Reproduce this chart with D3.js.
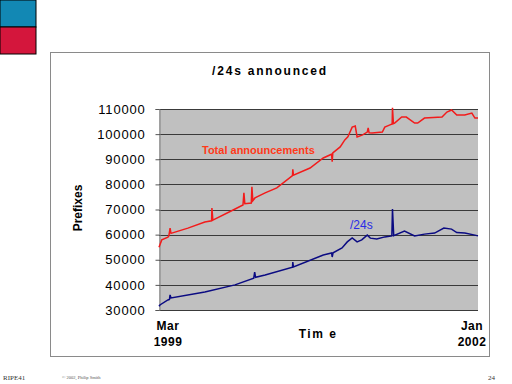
<!DOCTYPE html>
<html>
<head>
<meta charset="utf-8">
<script src="https://cdn.jsdelivr.net/npm/d3@7"></script>
<style>
  body { margin: 0; background: #fff; }
  svg { display: block; }
</style>
</head>
<body>
<script>
// size of the slide
var w = 512;
var h = 384;

// plot area inside the frame
var plot = {left: 159, right: 478, top: 109, bottom: 310};

// y ticks
var yTicks = [30000, 40000, 50000, 60000, 70000, 80000, 90000, 100000, 110000];

// Total announcements (red)
var totalDates = ["1999-03-01","1999-03-10","1999-03-30","1999-04-02","1999-04-06","1999-04-09",
  "1999-04-22","1999-06-03","1999-07-28","1999-08-19","1999-08-20","1999-08-23","1999-10-28",
  "1999-11-29","1999-12-02","1999-12-05","1999-12-26","1999-12-28","1999-12-31","2000-01-07",
  "2000-02-09","2000-03-18","2000-05-08","2000-05-09","2000-05-11","2000-07-04","2000-08-16",
  "2000-09-12","2000-09-14","2000-09-16","2000-10-10","2000-10-25","2000-11-04","2000-11-18",
  "2000-11-28","2000-12-04","2000-12-22","2001-01-06","2001-01-09","2001-01-12","2001-01-22",
  "2001-02-24","2001-03-04","2001-03-19","2001-03-28","2001-03-29","2001-04-01","2001-04-05",
  "2001-04-28","2001-05-13","2001-06-09","2001-06-19","2001-07-11","2001-09-06","2001-09-22",
  "2001-10-07","2001-10-24","2001-11-19","2001-12-12","2001-12-22","2002-01-01"];
var totalValues = [55000,57900,59000,59500,62600,60500,
  61000,62600,65000,65500,70600,65800,69800,
  71800,76600,72300,72600,79000,73500,74600,
  76600,78600,83500,86000,83700,86500,90500,
  92000,89000,92500,94900,97700,98900,102800,
  103200,98900,99700,100800,102500,100500,100400,
  100800,102800,103600,104000,110500,104200,104400,
  106800,106800,104400,104400,106400,106800,108800,
  109600,107600,107600,108400,106400,106400];

// /24s (blue)
var p24Dates = ["1999-03-01","1999-03-04","1999-03-30","1999-04-04","1999-04-06","1999-04-09",
  "1999-07-28","1999-11-03","2000-01-03","2000-01-06","2000-01-09","2000-02-09","2000-05-08",
  "2000-05-09","2000-05-11","2000-08-16","2000-09-12","2000-09-14","2000-09-17","2000-10-16",
  "2000-11-02","2000-11-18","2000-12-04","2000-12-19","2001-01-06","2001-01-16","2001-02-06",
  "2001-03-04","2001-03-27","2001-03-29","2001-04-02","2001-05-07","2001-06-09","2001-07-11",
  "2001-08-13","2001-09-12","2001-10-07","2001-10-24","2001-11-19","2001-12-22","2002-01-01"];
var p24Values = [31500,32000,34000,34200,36000,34800,
  37200,40000,42700,45100,43000,43900,47000,
  49100,47100,51900,52700,51100,52800,54700,
  57100,58700,57100,57900,59800,58600,58300,
  59100,59500,70200,59600,61400,59500,60200,
  60600,62600,62200,60800,60600,59800,59500];

var parse = d3.timeParse("%Y-%m-%d");
var total = totalDates.map(function(d, i){ return {date: parse(d), value: totalValues[i]}; });
var p24 = p24Dates.map(function(d, i){ return {date: parse(d), value: p24Values[i]}; });

var svg = d3.select("body").append("svg")
  .attr("width", w)
  .attr("height", h);

// corner squares
svg.append("rect").attr("x", 0).attr("y", 0).attr("width", 36).attr("height", 27)
  .attr("fill", "#1288b4").attr("stroke", "#000").attr("stroke-width", 1);
svg.append("rect").attr("x", 0).attr("y", 27).attr("width", 36).attr("height", 27)
  .attr("fill", "#d4163c").attr("stroke", "#000").attr("stroke-width", 1);

// chart frame
svg.append("rect").attr("x", 50.5).attr("y", 52.5).attr("width", 439).attr("height", 304)
  .attr("fill", "#fff").attr("stroke", "#8a8a8a").attr("stroke-width", 1);

var x = d3.scaleTime()
  .domain([parse("1999-03-01"), parse("2002-01-01")])
  .range([plot.left, plot.right]);

var y = d3.scaleLinear()
  .domain([30000, 110000])
  .range([plot.bottom, plot.top]);

// plot background
svg.append("rect")
  .attr("x", plot.left).attr("y", plot.top)
  .attr("width", plot.right - plot.left).attr("height", plot.bottom - plot.top)
  .attr("fill", "#c0c0c0");

// gridlines
svg.selectAll("line.grid")
  .data(yTicks)
  .enter().append("line")
  .attr("class", "grid")
  .attr("x1", plot.left).attr("x2", plot.right)
  .attr("y1", function(d){ return Math.round(y(d)) + 0.5; })
  .attr("y2", function(d){ return Math.round(y(d)) + 0.5; })
  .attr("stroke", "#3a3a3a").attr("stroke-width", 1);

// y axis
var yAxis = d3.axisLeft(y).tickValues(yTicks).tickSize(4).tickPadding(10).tickFormat(d3.format("d"));
var ya = svg.append("g")
  .attr("transform", "translate(" + (plot.left + 0.5) + ",0)")
  .call(yAxis);
ya.select(".domain").attr("stroke", "#808080");
ya.selectAll(".tick line").attr("stroke", "#555");
ya.selectAll("text")
  .attr("font-family", "Liberation Sans, Arial, sans-serif")
  .attr("font-size", 13)
  .attr("letter-spacing", "0.8px")
  .attr("fill", "#000");

// lines
var line = d3.line()
  .x(function(d){ return x(d.date); })
  .y(function(d){ return y(d.value); });

svg.append("path").datum(total)
  .attr("d", line).attr("fill", "none")
  .attr("stroke", "#f21b1b").attr("stroke-width", 1.5);

svg.append("path").datum(p24)
  .attr("d", line).attr("fill", "none")
  .attr("stroke", "#0b0b82").attr("stroke-width", 1.5);

// labels
var font = "Liberation Sans, Arial, sans-serif";

svg.append("text")
  .attr("x", 270).attr("y", 75)
  .attr("text-anchor", "middle")
  .attr("font-family", font).attr("font-weight", "bold")
  .attr("font-size", 12).attr("letter-spacing", "1.8px")
  .text("/24s announced");

svg.append("text")
  .attr("x", 202).attr("y", 154)
  .attr("font-family", font).attr("font-weight", "bold")
  .attr("font-size", 11).attr("fill", "#ff3a1a")
  .text("Total announcements");

svg.append("text")
  .attr("x", 350).attr("y", 229)
  .attr("font-family", font)
  .attr("font-size", 12).attr("fill", "#2a2ae6")
  .text("/24s");

svg.append("text")
  .attr("transform", "translate(82,208) rotate(-90)")
  .attr("text-anchor", "middle")
  .attr("font-family", font).attr("font-weight", "bold")
  .attr("font-size", 12)
  .text("Prefixes");

var xLabels = [["Mar", "1999", 168], ["Jan", "2002", 472]];
xLabels.forEach(function(l){
  svg.append("text").attr("x", l[2]).attr("y", 330).attr("text-anchor", "middle")
    .attr("font-family", font).attr("font-weight", "bold").attr("font-size", 12)
    .attr("letter-spacing", "0.5px").text(l[0]);
  svg.append("text").attr("x", l[2]).attr("y", 346).attr("text-anchor", "middle")
    .attr("font-family", font).attr("font-weight", "bold").attr("font-size", 12)
    .attr("letter-spacing", "0.5px").text(l[1]);
});

svg.append("text")
  .attr("x", 318).attr("y", 338)
  .attr("text-anchor", "middle")
  .attr("font-family", font).attr("font-weight", "bold")
  .attr("font-size", 12).attr("letter-spacing", "1.5px")
  .attr("xml:space", "preserve")
  .text("Tim e");

// footer
svg.append("text").attr("x", 3).attr("y", 380)
  .attr("font-family", "Liberation Serif, serif").attr("font-size", 7)
  .attr("fill", "#333").text("RIPE41");
svg.append("text").attr("x", 62).attr("y", 379)
  .attr("font-family", "Liberation Serif, serif").attr("font-size", 4.5)
  .attr("fill", "#555").text("© 2002, Philip Smith");
svg.append("text").attr("x", 488).attr("y", 380)
  .attr("font-family", "Liberation Serif, serif").attr("font-size", 7)
  .attr("fill", "#333").text("24");
</script>
</body>
</html>
